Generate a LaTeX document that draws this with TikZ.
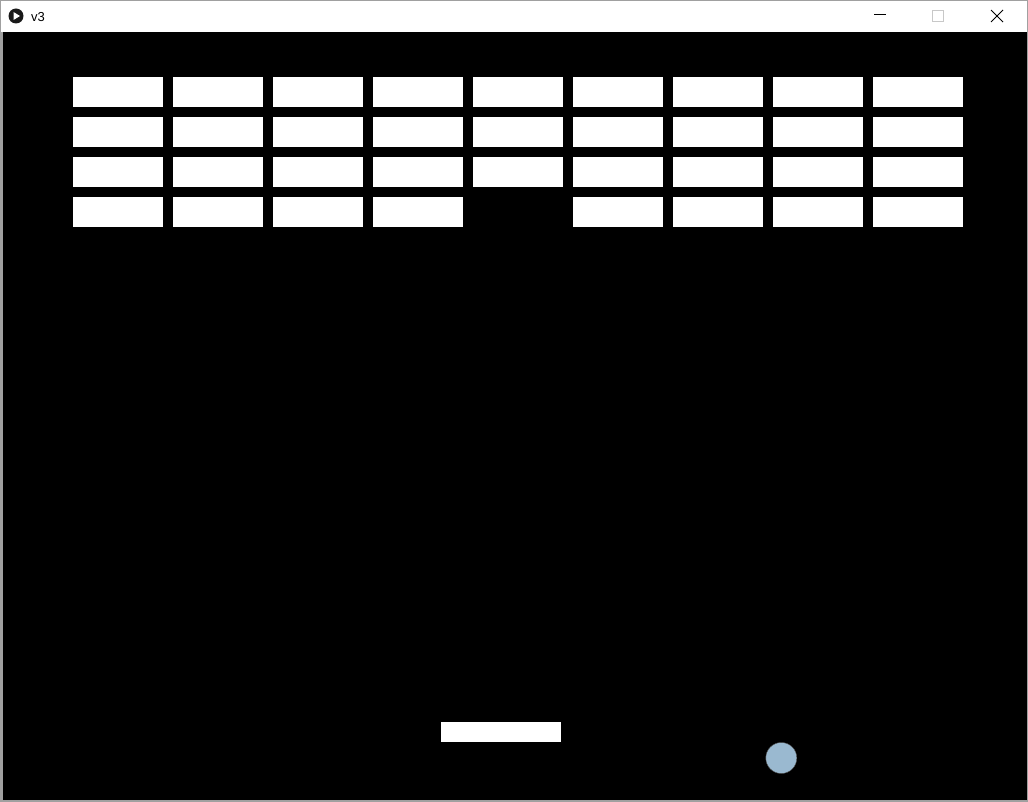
\documentclass[tikz,border=0pt]{standalone}
\usepackage{fontspec}
\setmainfont{Liberation Sans}
\definecolor{ballblue}{RGB}{154,185,208}
\definecolor{frame}{RGB}{160,160,160}
\definecolor{maxgray}{RGB}{200,200,200}
\begin{document}
\begin{tikzpicture}[x=1pt,y=-1pt,
  brick/.style={fill=white,draw=none,minimum width=90pt,minimum height=30pt,inner sep=0pt,anchor=north west},
  paddle/.style={fill=white,draw=none,minimum width=120pt,minimum height=20pt,inner sep=0pt,anchor=north west},
  ball/.style={circle,fill=ballblue,draw=black!70,line width=0.4pt,minimum size=31pt,inner sep=0pt},
  titletext/.style={font=\fontsize{13}{15}\selectfont,inner sep=0pt,anchor=west}]
\useasboundingbox (0,0) rectangle (1028,802);
% window frame
\fill[frame] (0,0) rectangle (1028,802);
\fill[white] (1,1) rectangle (1027,32);
\fill[black] (3,32) rectangle (1027,800);
% title bar
\node[circle,fill=black!90,minimum size=15pt,inner sep=0pt] (icon) at (16,16) {};
\fill[white] (13.5,12) -- (20,16) -- (13.5,20) -- cycle;
\node[titletext] (title) at (31,17) {v3};
\draw[black,line width=1pt] (874,15) -- (886,15);
\draw[maxgray,line width=0.8pt] (932.5,10.5) rectangle (943.5,21.5);
\draw[black,line width=1pt] (991,10) -- (1003,22) (1003,10) -- (991,22);
% bricks
\foreach \r in {0,...,3}{
  \foreach \c in {0,...,8}{
    \pgfmathtruncatemacro{\skip}{(\r==3 && \c==4) ? 1 : 0}
    \ifnum\skip=0
      \node[brick] (b-\r-\c) at ({73+100*\c},{77+40*\r}) {};
    \fi
  }
}
% paddle and ball
\node[paddle] (paddle) at (441,722) {};
\node[ball] (ball) at (781.3,758) {};
\end{tikzpicture}
\end{document}
